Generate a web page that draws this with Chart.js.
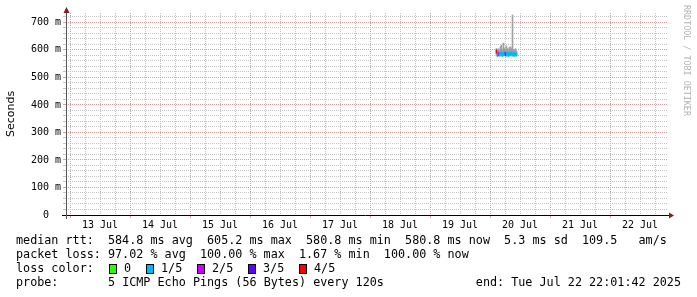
<!DOCTYPE html>
<html><head><meta charset="utf-8">
<script src="https://cdn.jsdelivr.net/npm/chart.js@4/dist/chart.umd.min.js"></script>
<style>html,body{margin:0;padding:0;background:#fff}canvas{display:block}</style>
</head><body>
<canvas id="c" width="697" height="297"></canvas>
<script>
// ---- data (hours since 13 Jul 00:00) ----
const hours    = [170.6,171.0,171.4,171.8,172.2,172.6,173.0,173.4,173.8,174.2,174.6,175.0,175.4,175.8,176.2,176.6,177.0,177.4,177.8,178.2,178.6];
const median   = [594,582,585,583,587,584,582,586,589,584,583,587,582,585,584,588,583,586,582,585,583];
const loss     = [4,1,2,1,1,1,1,1,1,3,1,1,1,1,1,1,1,1,1,1,1];
const smokeMin = [580,578,580,579,581,580,578,580,582,579,580,581,578,580,579,582,579,580,578,580,579];
const smokeMax = [605,598,604,600,612,618,603,625,607,600,614,605,602,609,611,606,727,602,598,604,596];
const dayLabels = ['13 Jul','14 Jul','15 Jul','16 Jul','17 Jul','18 Jul','19 Jul','20 Jul','21 Jul','22 Jul'];
const yTickLabels = ['0','100 m','200 m','300 m','400 m','500 m','600 m','700 m'];
const lossLabels = ['0','1/5','2/5','3/5','4/5'];
const lossColors = ['#26ff00','#00b8ff','#cc00ff','#6200ff','#ff0000'];
const rttLine   = 'median rtt:  584.8 ms avg  605.2 ms max  580.8 ms min  580.8 ms now  5.3 ms sd  109.5   am/s';
const lossLine  = 'packet loss: 97.02 % avg  100.00 % max  1.67 % min  100.00 % now';
const probeText = '5 ICMP Echo Pings (56 Bytes) every 120s';
const endText   = 'end: Tue Jul 22 22:01:42 2025';

const MONO = '"DejaVu Sans Mono", monospace';
const RED = '#dc9c9c', GREY = '#c4c4c4';
const xTickVals = []; for (let h = 0; h <= 234; h += 6) xTickVals.push(h);
const yTickVals = []; for (let v = 0; v <= 720; v += 20) yTickVals.push(v);
const BAND = 6;

const extras = {
  id: 'extras',
  afterDraw(chart) {
    const ctx = chart.ctx, a = chart.chartArea;
    ctx.save();
    ctx.strokeStyle = '#000'; ctx.lineWidth = 1;
    ctx.beginPath(); ctx.moveTo(62, a.bottom + 0.5); ctx.lineTo(a.right + 1, a.bottom + 0.5); ctx.stroke();
    ctx.strokeStyle = '#555';
    ctx.beginPath(); ctx.moveTo(a.left + 0.5, 12); ctx.lineTo(a.left + 0.5, a.bottom + 4); ctx.stroke();
    ctx.fillStyle = '#7f1f1f';
    ctx.beginPath(); ctx.moveTo(a.left + 0.5, 7); ctx.lineTo(a.left - 2.5, 13); ctx.lineTo(a.left + 3.5, 13); ctx.closePath(); ctx.fill();
    ctx.beginPath(); ctx.moveTo(a.right + 6, a.bottom + 0.5); ctx.lineTo(a.right + 1, a.bottom - 2.5); ctx.lineTo(a.right + 1, a.bottom + 3.5); ctx.closePath(); ctx.fill();
    ctx.save();
    ctx.translate(686, 5); ctx.rotate(Math.PI / 2);
    ctx.fillStyle = '#b4b4b4'; ctx.font = '8.4px ' + MONO; ctx.textBaseline = 'middle'; ctx.textAlign = 'left';
    ctx.fillText('RRDTOOL / TOBI OETIKER', 0, 0);
    ctx.restore();
    ctx.fillStyle = '#000'; ctx.font = '11.75px ' + MONO; ctx.textBaseline = 'middle'; ctx.textAlign = 'left';
    const r1 = 241, r2 = 255, r3 = 269, r4 = 283;
    ctx.fillText(rttLine, 16, r1);
    ctx.fillText(lossLine, 16, r2);
    ctx.fillText('loss color:', 16, r3);
    const bx = [109, 146, 197, 248, 299];
    lossLabels.forEach((t, i) => {
      ctx.fillStyle = lossColors[i]; ctx.fillRect(bx[i], r3 - 5, 8, 10);
      ctx.strokeStyle = '#000'; ctx.strokeRect(bx[i] + 0.5, r3 - 4.5, 7, 9);
      ctx.fillStyle = '#000'; ctx.fillText(t, bx[i] + 15, r3);
    });
    ctx.fillText('probe:', 16, r4);
    ctx.fillText(probeText, 108, r4);
    ctx.textAlign = 'right';
    ctx.fillText(endText, 681, r4);
    ctx.restore();
  }
};

new Chart(document.getElementById('c'), {
  type: 'bar',
  data: {
    datasets: [
      {
        label: 'median',
        data: hours.map((h, i) => ({ x: h, y: [median[i] - BAND, median[i] + BAND] })),
        backgroundColor: loss.map(l => lossColors[l]),
        barThickness: 1, grouped: false, order: 0, borderWidth: 0
      },
      {
        label: 'smoke',
        data: hours.map((h, i) => ({ x: h, y: [smokeMin[i], smokeMax[i]] })),
        backgroundColor: '#a0a0a0',
        barThickness: 1, grouped: false, order: 1, borderWidth: 0
      }
    ]
  },
  options: {
    responsive: false, animation: false, devicePixelRatio: 1,
    layout: { padding: { left: 0, top: 13, right: 29, bottom: 0 } },
    plugins: { legend: { display: false }, tooltip: { enabled: false } },
    scales: {
      x: {
        type: 'linear', min: -1.6, max: 239.2, offset: false,
        afterFit: s => { s.height = 82; },
        afterBuildTicks: s => { s.ticks = xTickVals.map(v => ({ value: v })); },
        grid: {
          offset: false, drawTicks: true, tickLength: 3,
          color: c => (c.tick && c.tick.value % 24 === 0) ? RED : GREY,
          tickColor: c => (c.tick && c.tick.value % 24 === 0) ? RED : 'rgba(0,0,0,0)'
        },
        border: { display: false, dash: [1, 1] },
        ticks: {
          autoSkip: false, maxRotation: 0, minRotation: 0, padding: 1, color: '#000',
          font: { family: MONO, size: 10 },
          callback: v => (v % 24 === 12) ? dayLabels[Math.floor(v / 24)] : ''
        }
      },
      y: {
        min: 0, max: 734,
        afterFit: s => { s.width = 66; },
        afterBuildTicks: s => { s.ticks = yTickVals.map(v => ({ value: v })); },
        grid: {
          drawTicks: true, tickLength: 3,
          color: c => (c.tick && c.tick.value % 100 === 0) ? RED : GREY,
          tickColor: c => (c.tick && c.tick.value % 100 === 0) ? RED : GREY
        },
        border: { display: false, dash: [1, 1] },
        title: { display: true, text: 'Seconds', color: '#000', font: { family: '"DejaVu Sans", sans-serif', size: 11 }, padding: { top: 5, bottom: 0 } },
        ticks: {
          autoSkip: false, padding: 2, color: '#000',
          font: { family: MONO, size: 10 },
          callback: v => (v % 100 === 0) ? (v === 0 ? yTickLabels[0] + '\u00a0\u00a0' : yTickLabels[v / 100]) : ''
        }
      }
    }
  },
  plugins: [extras]
});
</script>
</body></html>
